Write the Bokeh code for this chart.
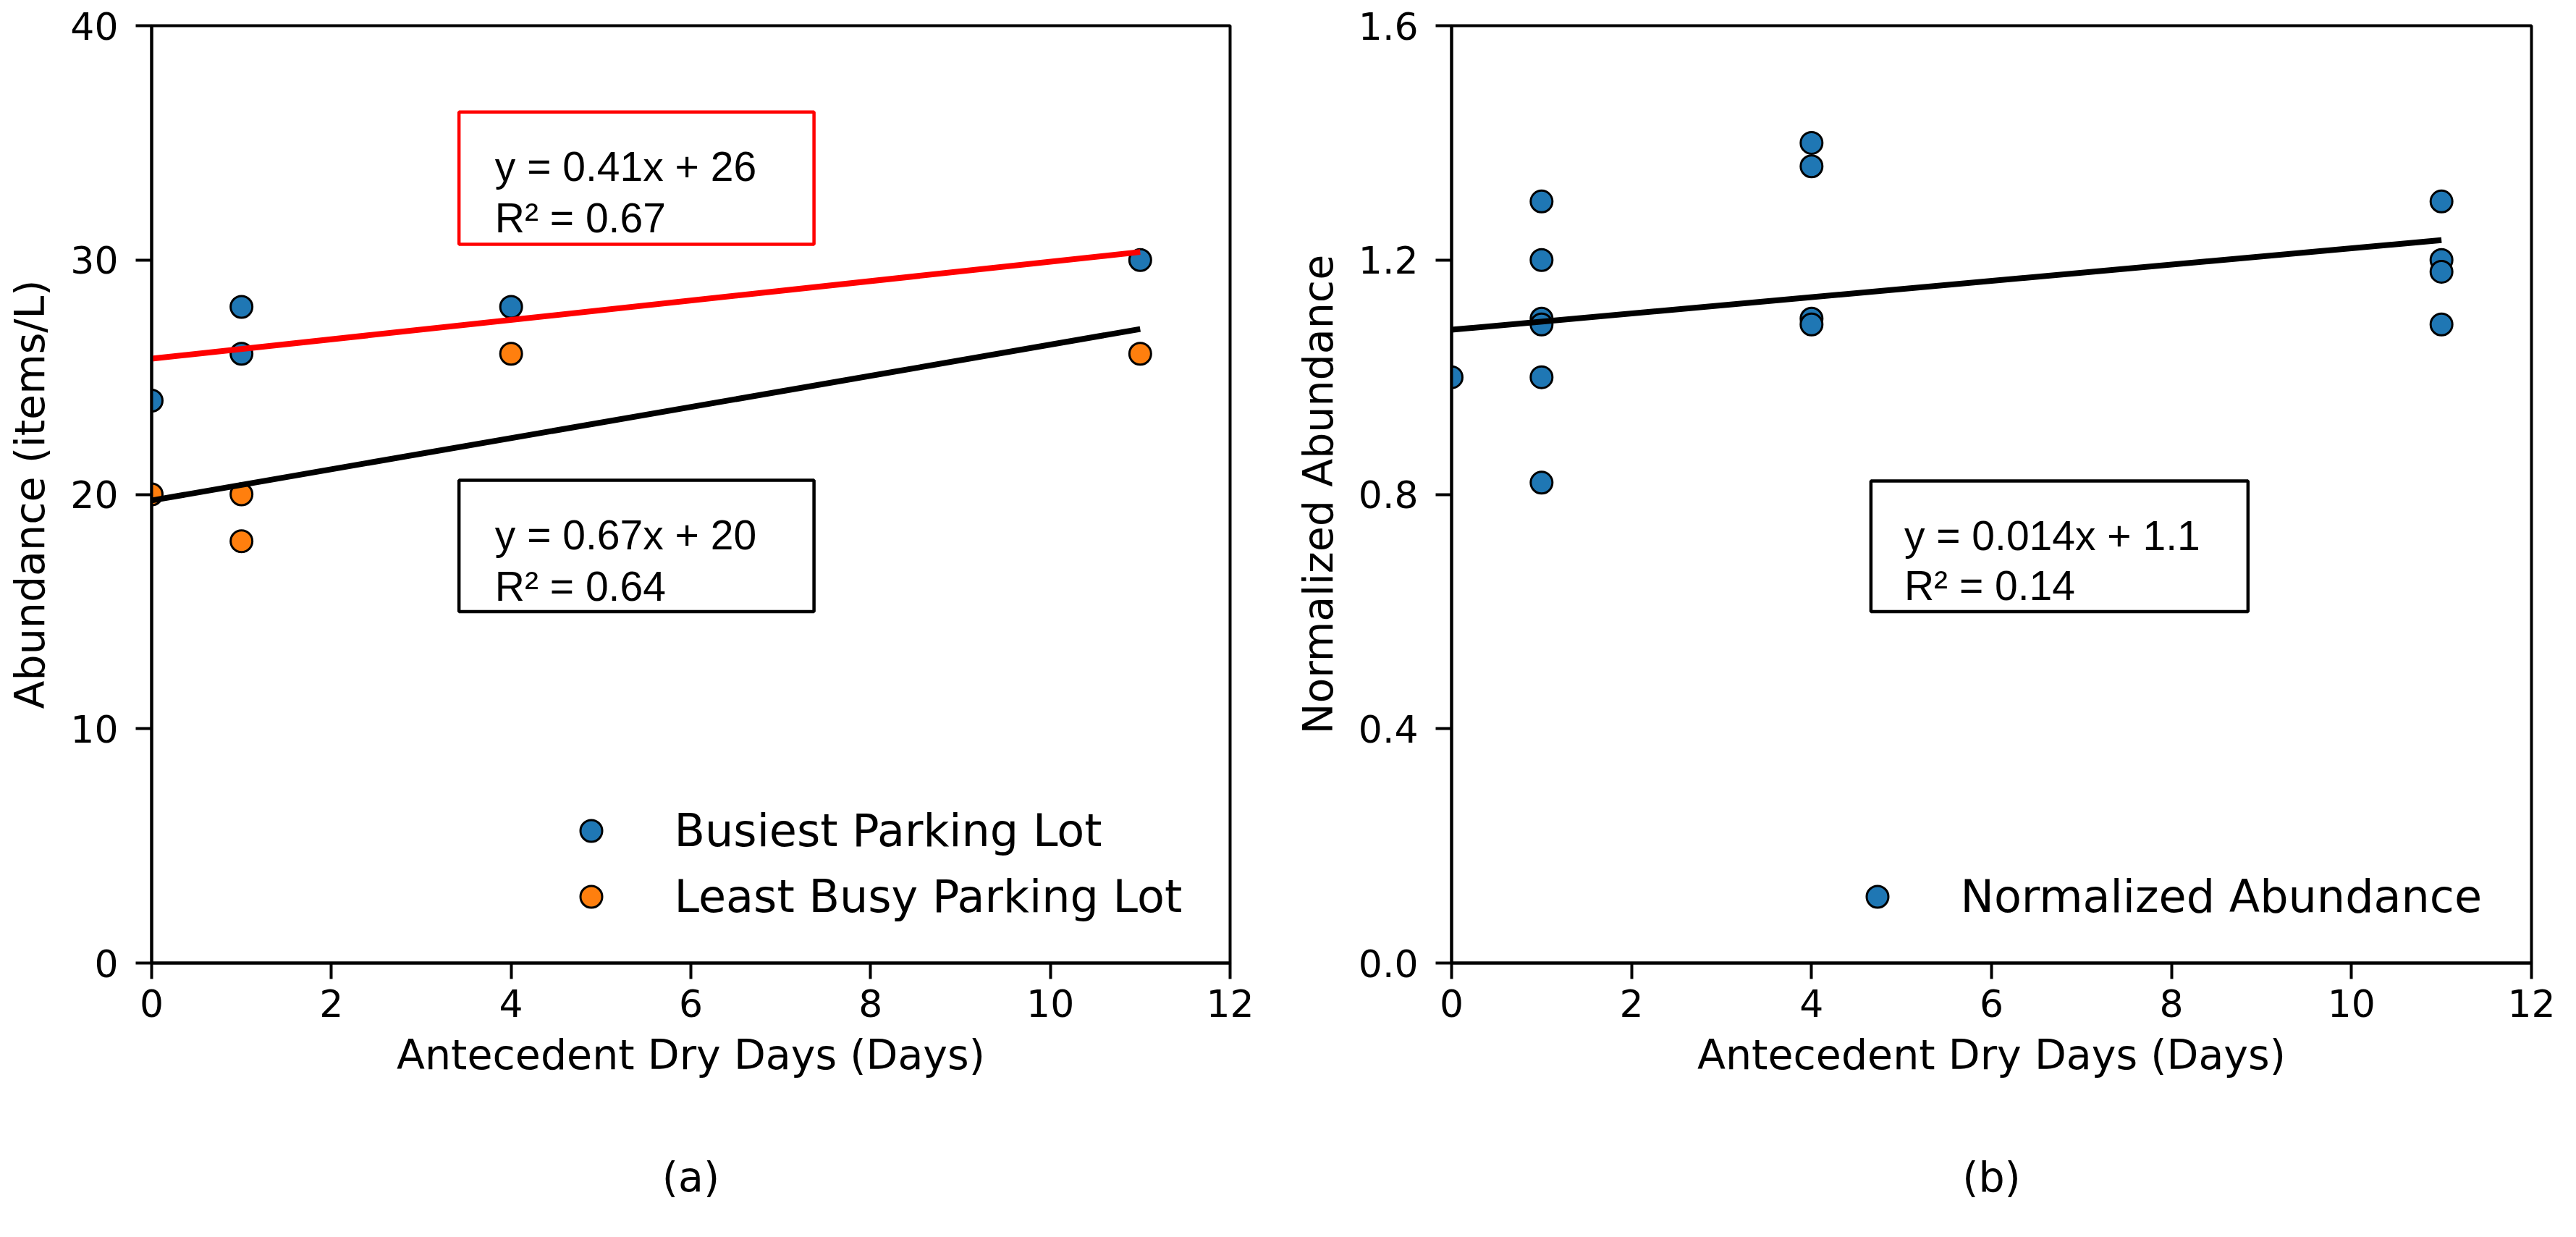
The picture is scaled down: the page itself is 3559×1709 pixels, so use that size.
from bokeh.embed import file_html
from bokeh.resources import INLINE
from bokeh.plotting import figure
from bokeh.layouts import row
from bokeh.models import (Range1d, FixedTicker, BoxAnnotation, Label, Legend,
                          LegendItem, LinearAxis)

# shared x axis
x_ticks = [0, 2, 4, 6, 8, 10, 12]
x_tick_labels = ['0', '2', '4', '6', '8', '10', '12']

# panel (a): abundance per parking lot
dry_days_a = [0, 1, 1, 4, 11]
busiest = [24, 28, 26, 28, 30]
least_busy = [20, 20, 18, 26, 26]
a_ticks = [0, 10, 20, 30, 40]
a_tick_labels = ['0', '10', '20', '30', '40']

# panel (b): normalized abundance
dry_days_b = [0, 1, 1, 1, 1, 1, 1, 4, 4, 4, 4, 11, 11, 11, 11]
normalized = [1.00, 1.30, 1.20, 1.10, 1.09, 1.00, 0.82,
              1.40, 1.36, 1.10, 1.09, 1.30, 1.20, 1.18, 1.09]
b_ticks = [0, 0.4, 0.8, 1.2, 1.6]
b_tick_labels = ['0.0', '0.4', '0.8', '1.2', '1.6']

# trend lines: slope, intercept, over x = 0..11
fit_span = [0, 11]
fit_busiest = (0.414, 25.79)
fit_least = (0.665, 19.74)
fit_norm = (0.0139, 1.081)

eq_busiest = ['y = 0.41x + 26', 'R\u00b2 = 0.67']
eq_least = ['y = 0.67x + 20', 'R\u00b2 = 0.64']
eq_norm = ['y = 0.014x + 1.1', 'R\u00b2 = 0.14']

BLUE = '#1f77b4'
ORANGE = '#ff7f0e'
AX_FONT = 'DejaVu Sans'
EQ_FONT = 'Liberation Sans'


def panel(width, left, right, y_end, ticks, tick_labels, ylabel, tag):
    p = figure(width=width, height=1693, output_backend='svg',
               toolbar_location=None,
               x_range=Range1d(0, 12), y_range=Range1d(0, y_end),
               min_border_left=left, min_border_right=right,
               min_border_top=35, min_border_bottom=363)
    p.xgrid.visible = False
    p.ygrid.visible = False
    p.outline_line_color = 'black'
    p.outline_line_alpha = 1
    p.outline_line_width = 4
    p.xaxis.ticker = FixedTicker(ticks=x_ticks)
    p.xaxis.major_label_overrides = dict(zip(x_ticks, x_tick_labels))
    p.yaxis.ticker = FixedTicker(ticks=ticks)
    p.yaxis.major_label_overrides = dict(zip(ticks, tick_labels))
    p.xaxis.axis_label = 'Antecedent Dry Days (Days)'
    p.yaxis.axis_label = ylabel
    for ax in (p.xaxis[0], p.yaxis[0]):
        ax.axis_line_width = 4
        ax.axis_line_color = 'black'
        ax.major_tick_out = 22
        ax.major_tick_in = 0
        ax.major_tick_line_width = 4
        ax.major_tick_line_color = 'black'
        ax.minor_tick_out = 0
        ax.minor_tick_in = 0
        ax.major_label_text_font = AX_FONT
        ax.major_label_text_font_size = '52px'
        ax.major_label_text_color = 'black'
        ax.axis_label_text_font = AX_FONT
        ax.axis_label_text_font_size = '57px'
        ax.axis_label_text_font_style = 'normal'
        ax.axis_label_text_color = 'black'
    p.xaxis.major_label_standoff = 14
    p.xaxis.axis_label_standoff = 16
    p.yaxis.major_label_standoff = 24
    p.yaxis.axis_label_standoff = 20
    # panel tag under the x axis: a bare axis that only carries a label
    tag_axis = LinearAxis(ticker=FixedTicker(ticks=[]), axis_label=tag,
                          axis_line_color=None, major_tick_out=0,
                          major_tick_in=0, minor_tick_out=0, minor_tick_in=0,
                          major_label_standoff=0, axis_label_standoff=100,
                          axis_label_text_font=AX_FONT,
                          axis_label_text_font_size='57px',
                          axis_label_text_font_style='normal',
                          axis_label_text_color='black')
    p.add_layout(tag_axis, 'below')
    return p


def trend(p, fit, color):
    slope, icpt = fit
    p.line(fit_span, [icpt + slope * x for x in fit_span],
           line_color=color, line_width=8)


def eq_box(p, box, lines, color, x_text, baselines):
    left, right, bottom, top = box
    p.add_layout(BoxAnnotation(left=left, right=right, bottom=bottom, top=top,
                               fill_color=None, fill_alpha=0,
                               line_color=color, line_alpha=1,
                               line_width=4.5))
    for txt, yb in zip(lines, baselines):
        p.add_layout(Label(x=x_text, y=yb, text=txt, text_font=EQ_FONT,
                           text_font_size='57px', text_color='black',
                           text_baseline='alphabetic'))


def legend(p, items, loc):
    p.add_layout(Legend(items=items, location=loc, glyph_width=75,
                        glyph_height=75, label_height=75, spacing=16,
                        padding=0, label_standoff=78, border_line_color=None,
                        background_fill_alpha=0, label_text_font=AX_FONT,
                        label_text_font_size='62px',
                        label_text_color='black'))


# (a)
pa = panel(1759, 209, 60, 40, a_ticks, a_tick_labels,
           'Abundance (items/L)', '(a)')
ra1 = pa.scatter(dry_days_a, busiest, size=30, fill_color=BLUE,
                 line_color='black', line_width=3)
ra2 = pa.scatter(dry_days_a, least_busy, size=30, fill_color=ORANGE,
                 line_color='black', line_width=3)
trend(pa, fit_busiest, 'red')
trend(pa, fit_least, 'black')
eq_box(pa, (3.42, 7.37, 30.67, 36.32), eq_busiest, 'red', 3.82,
       [33.98, 31.81])
eq_box(pa, (3.42, 7.37, 15.0, 20.6), eq_least, 'black', 3.82,
       [18.26, 16.09])
legend(pa, [LegendItem(label='Busiest Parking Lot', renderers=[ra1]),
            LegendItem(label='Least Busy Parking Lot', renderers=[ra2])],
       (569.5, 54.5))

# (b)
pb = panel(1784, 246, 46, 1.6, b_ticks, b_tick_labels,
           'Normalized Abundance', '(b)')
rb = pb.scatter(dry_days_b, normalized, size=30, fill_color=BLUE,
                line_color='black', line_width=3)
trend(pb, fit_norm, 'black')
eq_box(pb, (4.66, 8.85, 0.600, 0.823), eq_norm, 'black', 5.03,
       [0.730, 0.644])
legend(pb, [LegendItem(label='Normalized Abundance', renderers=[rb])],
       (550.5, 54.5))

layout = row(pa, pb)
open('out.html', 'w').write(file_html(layout, INLINE))
